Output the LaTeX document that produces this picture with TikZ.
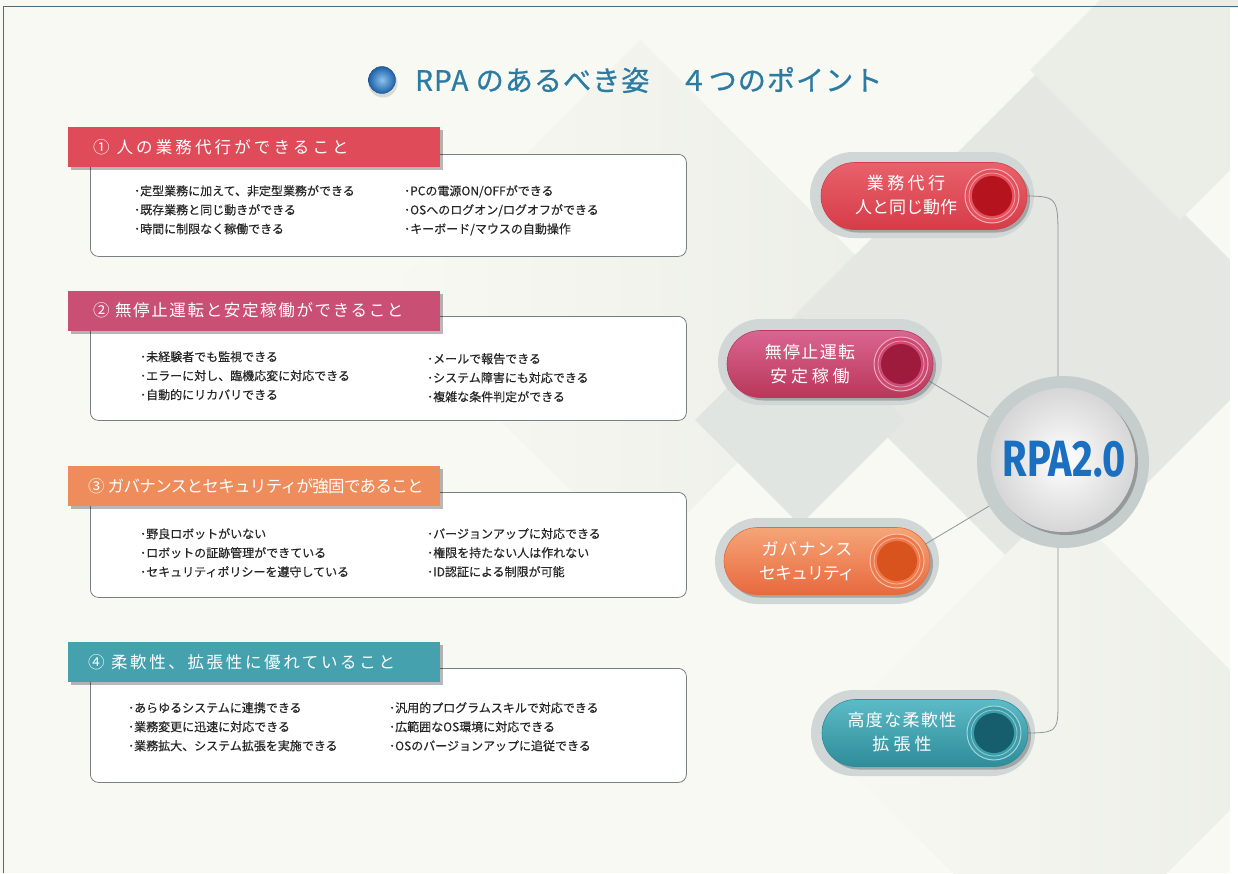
\documentclass[tikz,border=0pt]{standalone}
\usepackage{fontspec}
\setmainfont{Noto Sans CJK JP}
\newfontfamily\rpafont{Fira Sans}
\usetikzlibrary{shapes.misc,shadows,calc}

% palette
\definecolor{bgcream}{HTML}{F8F9F2}
\definecolor{frameline}{HTML}{4D6B7B}
\definecolor{diamA}{HTML}{E4E7E2}
\definecolor{diamB}{HTML}{EBEDE7}
\definecolor{diamC}{HTML}{E1E5E1}
\definecolor{boxline}{HTML}{7A7F80}
\definecolor{bodytext}{HTML}{262626}
\definecolor{titleblue}{HTML}{2B7BA3}
\definecolor{ballhi}{HTML}{8CC3EE}
\definecolor{balllo}{HTML}{1D5FA8}
\definecolor{rpablue}{HTML}{1A6FC0}
\definecolor{connc}{HTML}{8E979A}
\definecolor{halogray}{HTML}{D0D7D6}
\definecolor{rpahalo}{HTML}{C6CDCD}
\definecolor{redH}{HTML}{DF4B58}
\definecolor{pinkH}{HTML}{C94F74}
\definecolor{orangeH}{HTML}{EF8C5C}
\definecolor{tealH}{HTML}{46A1AE}
\definecolor{redTop}{HTML}{E8616B}
\definecolor{redBot}{HTML}{D63C48}
\definecolor{redRing}{HTML}{E4505B}
\definecolor{redCore}{HTML}{B5141F}
\definecolor{pinkTop}{HTML}{DA6590}
\definecolor{pinkBot}{HTML}{B9375A}
\definecolor{pinkRing}{HTML}{CF4A73}
\definecolor{pinkCore}{HTML}{9E1B3D}
\definecolor{oraTop}{HTML}{F5A577}
\definecolor{oraBot}{HTML}{E8693E}
\definecolor{oraRing}{HTML}{EE7A4C}
\definecolor{oraCore}{HTML}{D9531E}
\definecolor{tealTop}{HTML}{5CBBC6}
\definecolor{tealBot}{HTML}{2F8C9A}
\definecolor{tealRing}{HTML}{3C9EAB}
\definecolor{tealCore}{HTML}{165E6E}

\tikzset{
  every node/.style={inner sep=0pt},
  softshadow/.style={drop shadow={shadow xshift=2.5pt, shadow yshift=-3pt, opacity=0.28, fill=black}},
  hdrbox/.style={anchor=north west, minimum width=372pt, minimum height=40pt, softshadow},
  hdrtext/.style={anchor=west, text=white, font=\fontsize{16.5}{20}\selectfont},
  infobox/.style={anchor=north west, draw=boxline, line width=0.8pt, fill=white,
    rounded corners=8pt, minimum width=596pt},
  bullets/.style={anchor=north west, align=left, text=bodytext,
    font=\fontsize{12}{19}\selectfont\addfontfeature{FakeBold=0.3}},
  halo/.style={rounded rectangle, fill=halogray, minimum width=224pt, minimum height=86pt},
  pill/.style 2 args={rounded rectangle, minimum width=206pt, minimum height=67pt,
    top color=#1, bottom color=#2, draw=#2, line width=0.6pt,
    drop shadow={shadow xshift=3pt, shadow yshift=-3pt, opacity=0.35, fill=black!70}},
  knobring/.style={circle, minimum size=54pt, fill=#1, draw=white!55!#1, line width=1pt},
  knobline/.style={circle, minimum size=46pt, draw=white!45!#1, line width=0.8pt},
  knobcore/.style={circle, minimum size=40pt, fill=#1},
  pilltext/.style={align=center, text=white, font=\fontsize{17}{24}\selectfont},
  connline/.style={draw=connc, line width=0.8pt},
}

\begin{document}
\begin{tikzpicture}[x=1pt,y=-1pt]
\useasboundingbox (0,0) rectangle (1238,873);

% ---------- background ----------
\fill[bgcream] (0,0) rectangle (1238,873);
\shade[left color=bgcream, right color=diamB] (640,40) -- (900,300) -- (640,560) -- (380,300) -- cycle;
\fill[diamA] (1040,70) -- (1300,330) -- (1040,590) -- (780,330) -- cycle;
\fill[diamB] (1180,-80) -- (1330,70) -- (1180,220) -- (1030,70) -- cycle;
\fill[diamC] (800,315) -- (905,420) -- (800,525) -- (695,420) -- cycle;
\shade[left color=bgcream, right color=diamB] (1060,500) -- (1300,740) -- (1060,980) -- (820,740) -- cycle;
\fill[white] (1230,8) rectangle (1238,873);
\draw[frameline, line width=1.6pt] (3.5,873) -- (3.5,6.5) -- (1238,6.5);

% ---------- title ----------
\fill[black, opacity=0.12] (383,83) circle (14.5pt);
\node[circle, minimum size=27pt, inner color=ballhi, outer color=balllo, draw=balllo!80!black, line width=0.4pt] (ball) at (382,80) {};
\node[anchor=west, text=titleblue, font=\fontsize{28}{32}\selectfont] (title) at (415,80)
  {\addfontfeature{LetterSpace=4,FakeBold=0.8}RPA のあるべき姿　４つのポイント};

% ---------- section 1 ----------
\node[infobox, minimum height=102pt] (b1) at (90,154) {};
\node[hdrbox, fill=redH] (h1) at (68,127) {};
\node[hdrtext] (h1t) at (93,147) {\addfontfeature{LetterSpace=19}① 人の業務代行ができること};
\node[bullets] (b1l) at (134,185) {･定型業務に加えて、非定型業務ができる\\･既存業務と同じ動きができる\\･時間に制限なく稼働できる};
\node[bullets] (b1r) at (404,185) {･PCの電源ON/OFFができる\\･OSへのログオン/ログオフができる\\･キーボード/マウスの自動操作};

% ---------- section 2 ----------
\node[infobox, minimum height=104pt] (b2) at (90,316) {};
\node[hdrbox, fill=pinkH] (h2) at (68,291) {};
\node[hdrtext] (h2t) at (93,310) {\addfontfeature{LetterSpace=10}② 無停止運転と安定稼働ができること};
\node[bullets] (b2l) at (140,351) {･未経験者でも監視できる\\･エラーに対し、臨機応変に対応できる\\･自動的にリカバリできる};
\node[bullets] (b2r) at (427,353) {･メールで報告できる\\･システム障害にも対応できる\\･複雑な条件判定ができる};

% ---------- section 3 ----------
\node[infobox, minimum height=105pt] (b3) at (90,492) {};
\node[hdrbox, fill=orangeH] (h3) at (68,466) {};
\node[hdrtext] (h3t) at (88,486) {\addfontfeature{LetterSpace=-4}③ ガバナンスとセキュリティが強固であること};
\node[bullets] (b3l) at (140,528) {･野良ロボットがいない\\･ロボットの証跡管理ができている\\･セキュリティポリシーを遵守している};
\node[bullets] (b3r) at (427,528) {･バージョンアップに対応できる\\･権限を持たない人は作れない\\･ID認証による制限が可能};

% ---------- section 4 ----------
\node[infobox, minimum height=114pt] (b4) at (90,668) {};
\node[hdrbox, fill=tealH] (h4) at (68,642) {};
\node[hdrtext] (h4t) at (88,662) {\addfontfeature{LetterSpace=16}④ 柔軟性、拡張性に優れていること};
\node[bullets] (b4l) at (128,702) {･あらゆるシステムに連携できる\\･業務変更に迅速に対応できる\\･業務拡大、システム拡張を実施できる};
\node[bullets] (b4r) at (389,702) {･汎用的プログラムスキルで対応できる\\･広範囲なOS環境に対応できる\\･OSのバージョンアップに追従できる};

% ---------- halos behind hub and pills ----------
\node[circle, minimum size=172pt, fill=rpahalo] (rpahalo) at (1063,462) {};
\node[halo] (q1) at (922,195) {};
\node[halo] (q2) at (830,362) {};
\node[halo] (q3) at (827,561) {};
\node[halo] (q4) at (923,733) {};

% ---------- connectors (drawn under the pills) ----------
\coordinate (k1c) at (992,196);
\coordinate (k2c) at (901,364);
\coordinate (k3c) at (897,561);
\coordinate (k4c) at (994,733);
\coordinate (c1) at (1058,240);
\coordinate (c4) at (1058,700);
\draw[connline] (k1c) -- (1020,196) .. controls (c1 |- k1c) .. (c1) -- (rpahalo.north -| c1);
\draw[connline] (rpahalo.south -| c4) -- (c4) .. controls (c4 |- k4c) .. (1020,733) -- (k4c);
\draw[connline] (k2c) -- (rpahalo);
\draw[connline] (k3c) -- (rpahalo);

% ---------- RPA 2.0 hub ----------
\node[circle, minimum size=144pt, inner color=white, outer color=black!16,
  drop shadow={shadow xshift=3pt, shadow yshift=-3pt, opacity=0.4, fill=black!70}] (rpa) at (1063,460) {};
\node[text=rpablue, font=\rpafont\bfseries\fontsize{51}{51}\selectfont] (rpat) at (1064,459) {\scalebox{0.78}[1]{RPA2.0}};

% ---------- pills ----------
\node[pill={redTop}{redBot}] (p1) at (924,196) {};
\node[knobring=redRing] (k1r) at (k1c) {};
\node[knobline=redRing] (k1l) at (k1c) {};
\node[knobcore=redCore] (k1) at (k1c) {};
\node[pilltext] (p1t) at ($(p1.center)+(-18,-1)$) {{\addfontfeature{LetterSpace=20}業務代行}\\人と同じ動作};

\node[pill={pinkTop}{pinkBot}] (p2) at (830,364) {};
\node[knobring=pinkRing] (k2r) at (k2c) {};
\node[knobline=pinkRing] (k2l) at (k2c) {};
\node[knobcore=pinkCore] (k2) at (k2c) {};
\node[pilltext] (p2t) at ($(p2.center)+(-20,0)$) {{\addfontfeature{LetterSpace=8}無停止運転}\\{\addfontfeature{LetterSpace=22}安定稼働}};

\node[pill={oraTop}{oraBot}] (p3) at (827,561) {};
\node[knobring=oraRing] (k3r) at (k3c) {};
\node[knobline=oraRing] (k3l) at (k3c) {};
\node[knobcore=oraCore] (k3) at (k3c) {};
\node[pilltext] (p3t) at ($(p3.center)+(-20,0)$) {{\addfontfeature{LetterSpace=9}ガバナンス}\\{\addfontfeature{LetterSpace=-6}セキュリティ}};

\node[pill={tealTop}{tealBot}] (p4) at (925,733) {};
\node[knobring=tealRing] (k4r) at (k4c) {};
\node[knobline=tealRing] (k4l) at (k4c) {};
\node[knobcore=tealCore] (k4) at (k4c) {};
\node[pilltext] (p4t) at ($(p4.center)+(-23,-1)$) {{\addfontfeature{LetterSpace=8}高度な柔軟性}\\{\addfontfeature{LetterSpace=24}拡張性}};
\end{tikzpicture}
\end{document}
